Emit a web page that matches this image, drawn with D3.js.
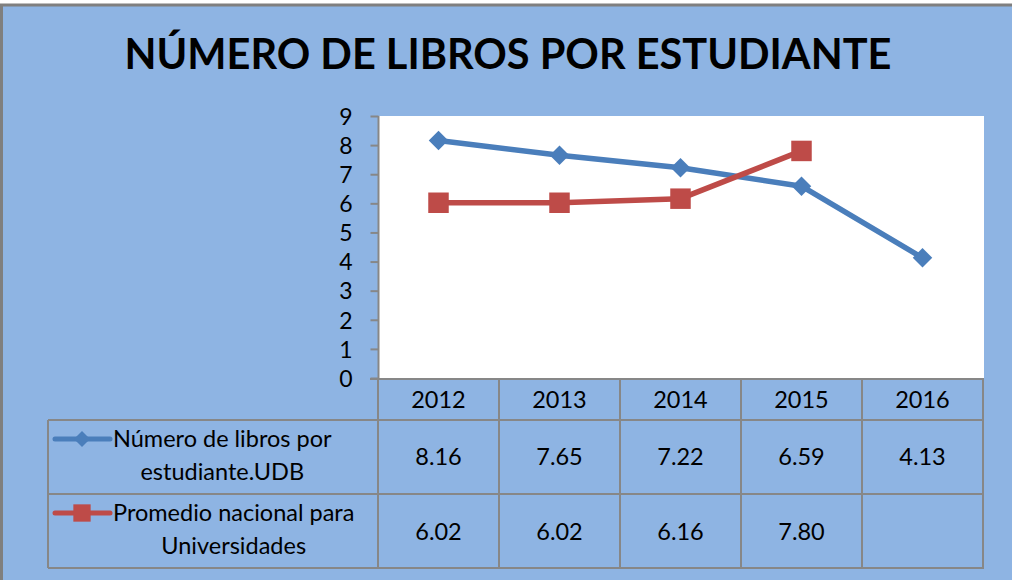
<!DOCTYPE html>
<html>
<head>
<meta charset="utf-8">
<script src="https://cdn.jsdelivr.net/npm/d3@7"></script>
<style>
  body { margin: 0; background: #fff; }
  text { font-family: Lato, "Open Sans", sans-serif; fill: #000; }
</style>
</head>
<body>
<svg id="chart" width="1012" height="580"></svg>
<script>
// data
var years = ["2012", "2013", "2014", "2015", "2016"];
var udb = [8.16, 7.65, 7.22, 6.59, 4.13];
var promedio = [6.02, 6.02, 6.16, 7.80, null];
var udbLabel = ["Número de libros por", "estudiante.UDB"];
var promedioLabel = ["Promedio nacional para", "Universidades"];
var yTicks = [0, 1, 2, 3, 4, 5, 6, 7, 8, 9];
var title = "NÚMERO DE LIBROS POR ESTUDIANTE";

var blue = "#4a7ebb", red = "#be4b48", grid = "#878787";

var svg = d3.select("#chart");

// chart background + border (only top / left visible)
svg.append("rect").attr("x", 0).attr("y", 4).attr("width", 1012).attr("height", 576)
  .attr("fill", "#8eb4e3");
svg.append("path").attr("d", "M1.5,580 V5 H1012")
  .attr("fill", "none").attr("stroke", "#7f7f7f").attr("stroke-width", 3);

svg.append("text").attr("x", 508).attr("y", 69)
  .attr("text-anchor", "middle").attr("font-weight", "bold")
  .attr("font-size", 41.5).text(title);

var x = d3.scaleBand().domain(years).range([378, 983]);
var y = d3.scaleLinear().domain([0, 9]).range([378, 116]);

// plot area
svg.append("rect").attr("x", 378).attr("y", 116).attr("width", 606).attr("height", 262)
  .attr("fill", "#fff");

// y axis
var yAxis = svg.append("g").attr("transform", "translate(378.5,0)")
  .call(d3.axisLeft(y).tickValues(yTicks).tickSize(8).tickPadding(18).tickFormat(d3.format("d")));
yAxis.select(".domain").attr("stroke", grid).attr("stroke-width", 2).attr("d", "M0,116V379");
yAxis.selectAll(".tick line").attr("stroke", grid).attr("stroke-width", 2);
yAxis.selectAll(".tick text").attr("font-size", 23).attr("fill", "#000")
  .attr("font-family", "Lato, sans-serif").attr("dy", "0.36em");

// data table
var tbl = svg.append("g").attr("stroke", grid).attr("stroke-width", 2).attr("fill", "none");
tbl.append("line").attr("x1", 370).attr("x2", 984).attr("y1", 379).attr("y2", 379);
[420, 494, 568].forEach(function(r) {
  tbl.append("line").attr("x1", 48).attr("x2", 984).attr("y1", r).attr("y2", r);
});
tbl.append("line").attr("x1", 48).attr("x2", 48).attr("y1", 420).attr("y2", 568);
var cols = years.map(function(d) { return x(d); }).concat([x.range()[1]]);
tbl.selectAll("line.v").data(cols).enter().append("line").attr("class", "v")
  .attr("x1", function(d) { return d; }).attr("x2", function(d) { return d; })
  .attr("y1", 379).attr("y2", 568);

svg.selectAll("text.year").data(years).enter().append("text").attr("class", "year")
  .attr("x", function(d) { return x(d) + x.bandwidth() / 2; }).attr("y", 408)
  .attr("text-anchor", "middle").attr("font-size", 23.5).text(function(d) { return d; });

function rowValues(vals, yy) {
  svg.selectAll(null).data(vals).enter().append("text")
    .attr("x", function(d, i) { return x(years[i]) + x.bandwidth() / 2; }).attr("y", yy)
    .attr("text-anchor", "middle").attr("font-size", 23.5)
    .text(function(d) { return d == null ? "" : d.toFixed(2); });
}
rowValues(udb, 465);
rowValues(promedio, 540);

// legend keys in table
var diamond = d3.symbol().type(d3.symbolSquare);
function legendEntry(lines, color, isSquare, yTop) {
  var ky = yTop + 19;
  svg.append("line").attr("x1", 55).attr("x2", 110).attr("y1", ky).attr("y2", ky)
    .attr("stroke", color).attr("stroke-width", 5).attr("stroke-linecap", "round");
  svg.append("path")
    .attr("transform", "translate(82," + ky + ")" + (isSquare ? "" : " rotate(45)"))
    .attr("d", diamond.size(isSquare ? 300 : 130)())
    .attr("fill", color);
  var g = svg.append("g");
  var t1 = g.append("text").attr("y", ky + 8).attr("text-anchor", "middle")
    .attr("font-size", 23.5).text(lines[0]);
  var t2 = g.append("text").attr("y", ky + 41).attr("text-anchor", "middle")
    .attr("font-size", 23.5).text(lines[1]);
  var w = Math.max(t1.node().getComputedTextLength(), t2.node().getComputedTextLength());
  var cx = 113 + w / 2;
  t1.attr("x", cx); t2.attr("x", cx);
}
legendEntry(udbLabel, blue, false, 420);
legendEntry(promedioLabel, red, true, 494);

// lines
function drawSeries(vals, color, isSquare) {
  var pts = vals.map(function(v, i) { return { k: years[i], v: v }; })
    .filter(function(d) { return d.v != null; });
  var line = d3.line()
    .x(function(d) { return x(d.k) + x.bandwidth() / 2; })
    .y(function(d) { return y(d.v); });
  svg.append("path").datum(pts).attr("d", line)
    .attr("fill", "none").attr("stroke", color).attr("stroke-width", 5.5)
    .attr("stroke-linejoin", "round");
  svg.selectAll(null).data(pts).enter().append("path")
    .attr("transform", function(d) {
      return "translate(" + (x(d.k) + x.bandwidth() / 2) + "," + y(d.v) + ")" +
        (isSquare ? "" : " rotate(45)");
    })
    .attr("d", diamond.size(isSquare ? 420 : 190)())
    .attr("fill", color);
}
drawSeries(udb, blue, false);
drawSeries(promedio, red, true);
</script>
</body>
</html>
